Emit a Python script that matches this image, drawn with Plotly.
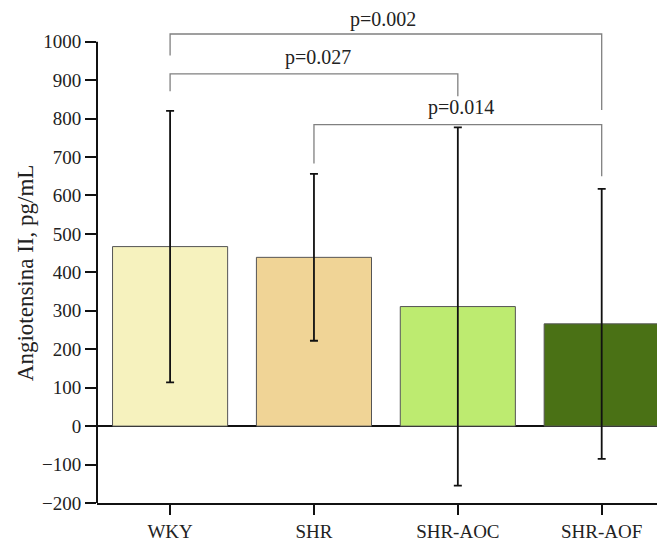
import plotly.graph_objects as go

# ---- data ----
groups = ["WKY", "SHR", "SHR-AOC", "SHR-AOF"]
means = [467, 439, 311, 266]
sd = [353, 217, 466, 351]
bar_colors = ["#F6F2BE", "#F0D496", "#BDEB70", "#4A7115"]

y_ticks = [-200, -100, 0, 100, 200, 300, 400, 500, 600, 700, 800, 900, 1000]

# significance brackets: left group, right group, left leg bottom, right leg bottom, top, label, label y
br_left = [0, 0, 1]
br_right = [3, 2, 3]
br_left_bottom = [964, 871, 683]
br_right_bottom = [822, 858, 650]
br_top = [1020, 916, 784]
br_label = ["p=0.002", "p=0.027", "p=0.014"]
br_label_y = [1057, 960, 830]
br_label_x = [1.48, 1.03, 2.02]

y_title = "Angiotensina II, pg/mL"

FONT = "Liberation Serif, Times New Roman, serif"

fig = go.Figure()
fig.add_trace(go.Bar(
    x=list(range(len(groups))),
    y=means,
    width=0.8,
    marker=dict(color=bar_colors, line=dict(color="#555555", width=1)),
    error_y=dict(type="data", array=sd, visible=True, color="#111111",
                 thickness=1.8, width=4),
    showlegend=False,
))

shapes = []
for l, r, lb, rb, t in zip(br_left, br_right, br_left_bottom, br_right_bottom, br_top):
    shapes.append(dict(
        type="path", xref="x", yref="y",
        path=f"M {l},{lb} L {l},{t} L {r},{t} L {r},{rb}",
        line=dict(color="#808080", width=1.3),
    ))
# y axis line only from -200 to 1000
shapes.append(dict(type="line", xref="paper", yref="y", x0=0, x1=0,
                   y0=y_ticks[0], y1=y_ticks[-1],
                   line=dict(color="#111111", width=2)))

annotations = []
for lx, ly, txt in zip(br_label_x, br_label_y, br_label):
    annotations.append(dict(x=lx, y=ly, xref="x", yref="y", text=txt,
                            showarrow=False, xanchor="center", yanchor="middle",
                            font=dict(family=FONT, size=20, color="#222222")))
annotations.append(dict(x=-0.127, y=400, xref="paper", yref="y", text=y_title,
                        textangle=-90, showarrow=False, xanchor="center",
                        yanchor="middle",
                        font=dict(family=FONT, size=23, color="#222222")))

fig.update_layout(
    width=657, height=534,
    margin=dict(l=89, r=0, t=0, b=34.4, pad=0),
    paper_bgcolor="white", plot_bgcolor="white",
    shapes=shapes, annotations=annotations,
    bargap=0.2,
    xaxis=dict(
        range=[-0.508, 3.44],
        tickmode="array", tickvals=list(range(len(groups))), ticktext=groups,
        showline=True, linecolor="#111111", linewidth=2,
        ticks="outside", ticklen=10, tickwidth=1.5, tickcolor="#111111",
        showgrid=False, zeroline=False,
        tickfont=dict(family=FONT, size=19, color="#222222"),
    ),
    yaxis=dict(
        range=[-200, 1087.6],
        tickmode="array", tickvals=y_ticks,
        showline=False,
        ticks="outside", ticklen=11, tickwidth=1.5, tickcolor="#111111",
        showgrid=False, zeroline=True, zerolinecolor="#111111", zerolinewidth=1.6,
        tickfont=dict(family=FONT, size=19, color="#222222"),
    ),
)

fig.write_html("out.html")
